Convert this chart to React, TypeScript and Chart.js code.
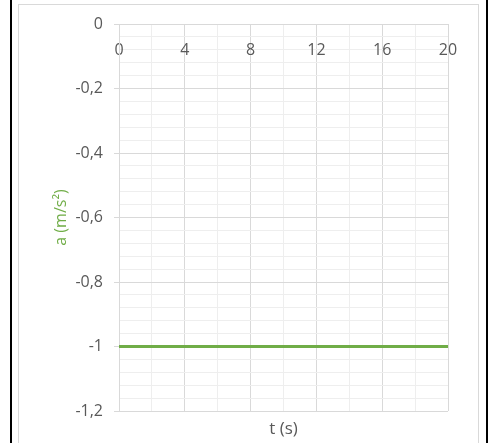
import React, { useEffect, useRef } from "react";
import { Chart, registerables } from "chart.js";

Chart.register(...registerables);

// ---- data ----
const timeValues = [0, 4, 8, 12, 16, 20];
const accelValues = [-1, -1, -1, -1, -1, -1];

const xMin = 0;
const xMax = 20;
const xMajorStep = 4;
const xMinorStep = 2;

const yMin = -1.2;
const yMax = 0;
const yMajorStep = 0.2;
const yMinorStep = 0.04;

const xTitle = "t (s)";
const yTitle = "a (m/s²)";

// ---- styles ----
const FONT = "'Open Sans', 'Liberation Sans', sans-serif";
const TEXT_GREY = "#595959";
const GREEN = "#70ad47";
const MAJOR_GRID = "#d9d9d9";
const MINOR_GRID = "#eeeeee";

const isMultiple = (v: number, step: number) =>
  Math.abs(v / step - Math.round(v / step)) < 1e-6;

const fmt = (v: number) => {
  const r = Math.round(v * 10) / 10;
  if (r === 0) return "0";
  return String(r).replace(".", ",");
};

export default function App() {
  const canvasRef = useRef<HTMLCanvasElement | null>(null);

  useEffect(() => {
    const canvas = canvasRef.current;
    if (!canvas) return;
    const chart = new Chart(canvas, {
      type: "line",
      data: {
        datasets: [
          {
            label: "a",
            data: timeValues.map((t, i) => ({ x: t, y: accelValues[i] })),
            borderColor: GREEN,
            backgroundColor: GREEN,
            borderWidth: 3,
            pointRadius: 0,
            fill: false,
            tension: 0,
            xAxisID: "x",
            yAxisID: "y",
          },
        ],
      },
      options: {
        animation: false,
        responsive: false,
        devicePixelRatio: 1,
        layout: { padding: { left: 0, right: 42, top: 24, bottom: 0 } },
        plugins: {
          legend: { display: false },
          tooltip: { enabled: false },
        },
        scales: {
          x: {
            type: "linear",
            axis: "x",
            position: { y: 0 } as any,
            min: xMin,
            max: xMax,
            ticks: {
              stepSize: xMinorStep,
              autoSkip: false,
              maxRotation: 0,
              padding: 17,
              color: TEXT_GREY,
              font: { family: FONT, size: 16 },
              callback: (v: any) =>
                isMultiple(Number(v), xMajorStep) ? String(Math.round(Number(v))) : "",
            },
            grid: {
              drawTicks: false,
              color: (ctx: any) =>
                ctx.tick && isMultiple(ctx.tick.value, xMajorStep) ? MAJOR_GRID : MINOR_GRID,
            },
            border: { display: true, color: MAJOR_GRID },
          },
          x2: {
            type: "linear",
            axis: "x",
            position: "bottom",
            min: xMin,
            max: xMax,
            ticks: { display: false },
            grid: { display: false, drawTicks: false },
            border: { display: false },
            title: {
              display: true,
              text: xTitle,
              color: TEXT_GREY,
              font: { family: FONT, size: 17 },
              padding: { top: 0, bottom: 4 },
            },
            afterFit: (s: any) => {
              s.height = 32;
            },
          },
          y: {
            type: "linear",
            position: "left",
            min: yMin,
            max: yMax,
            ticks: {
              stepSize: yMinorStep,
              autoSkip: false,
              padding: 11,
              color: TEXT_GREY,
              font: { family: FONT, size: 16 },
              callback: (v: any) =>
                isMultiple(Number(v), yMajorStep) ? fmt(Number(v)) : "",
            },
            grid: {
              tickLength: 5,
              color: (ctx: any) =>
                ctx.tick && isMultiple(ctx.tick.value, yMajorStep) ? MAJOR_GRID : MINOR_GRID,
              tickColor: (ctx: any) =>
                ctx.tick && isMultiple(ctx.tick.value, yMajorStep) ? MAJOR_GRID : "rgba(0,0,0,0)",
            },
            border: { display: true, color: MAJOR_GRID },
            title: {
              display: true,
              text: yTitle,
              color: GREEN,
              font: { family: FONT, size: 16 },
              padding: { top: 52, bottom: 0 },
            },
            afterFit: (s: any) => {
              s.width = 119;
            },
          },
        },
      },
    } as any);
    return () => chart.destroy();
  }, []);

  return (
    <div
      style={{
        position: "absolute",
        left: 0,
        top: 0,
        width: 490,
        height: 443,
        overflow: "hidden",
        background: "#ffffff",
      }}
    >
      <div
        style={{
          position: "absolute",
          left: 18,
          top: 4,
          width: 461,
          height: 460,
          border: "1px solid #d9d9d9",
          boxSizing: "border-box",
        }}
      />
      <div style={{ position: "absolute", left: 10, top: 0, width: 2, height: 443, background: "#000" }} />
      <div style={{ position: "absolute", left: 486, top: 0, width: 2, height: 443, background: "#000" }} />
      <canvas
        ref={canvasRef}
        width={490}
        height={443}
        style={{ position: "absolute", left: 0, top: 0, width: 490, height: 443 }}
      />
    </div>
  );
}
